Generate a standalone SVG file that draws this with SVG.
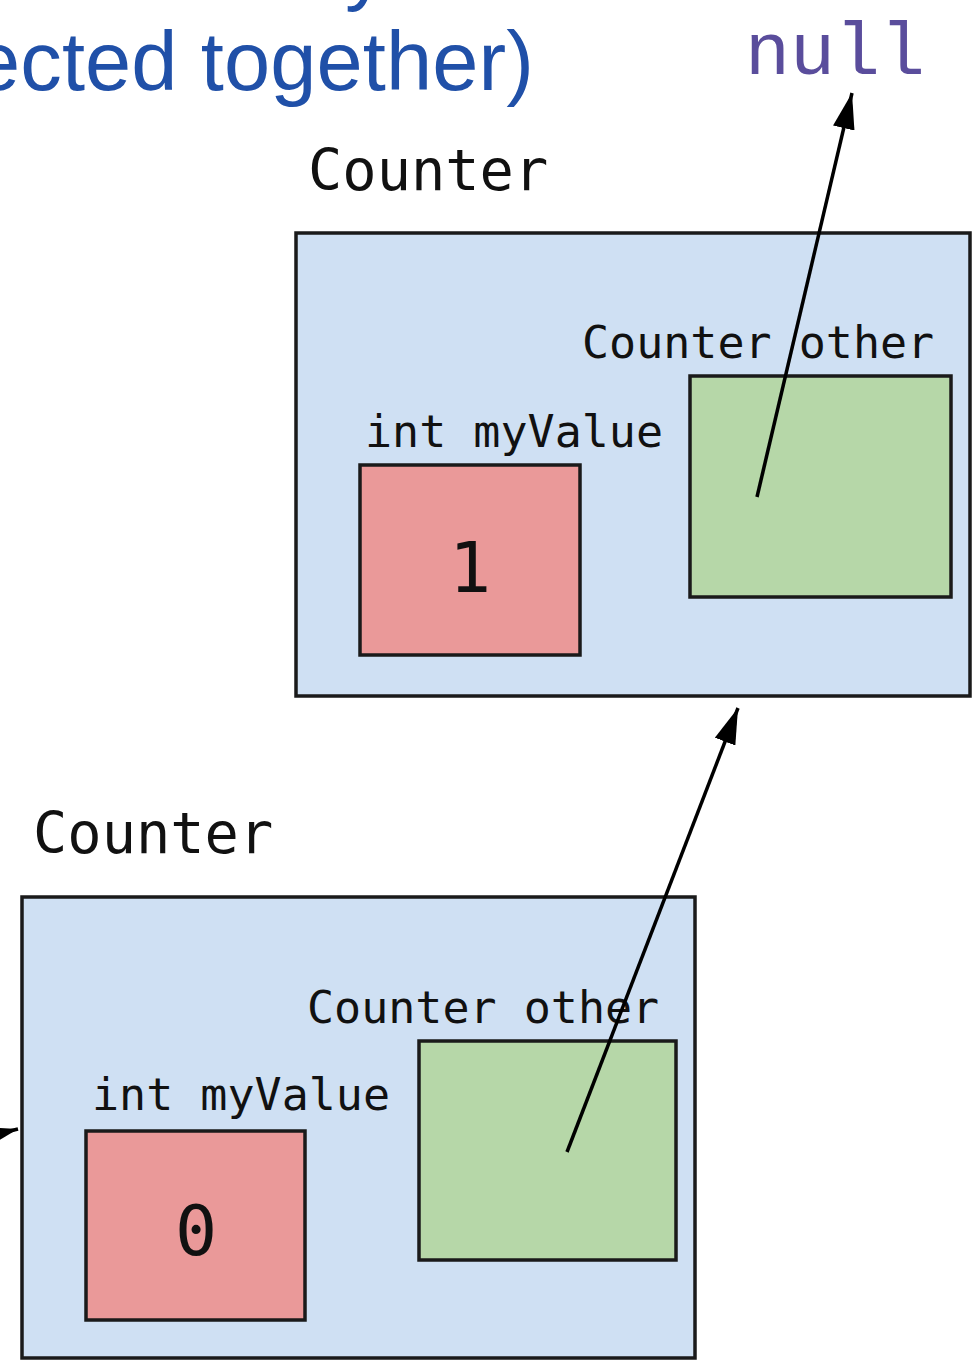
<svg xmlns="http://www.w3.org/2000/svg" width="973" height="1361" viewBox="0 0 973 1361">
  <defs>
    <style>
      .title { font-family: "Liberation Sans", Arial, sans-serif; font-size: 83px; fill: #2050a8; }
      .null { font-family: "Liberation Mono", "Courier New", monospace; font-size: 75px; fill: #5a4d9c; }
      .cls { font-family: "DejaVu Sans Mono", monospace; font-size: 57px; fill: #111; }
      .fld { font-family: "DejaVu Sans Mono", monospace; font-size: 45px; fill: #111; }
      .val { font-family: "DejaVu Sans Mono", monospace; font-size: 70px; fill: #111; text-anchor: middle; }
      .obj { fill: #cfe0f3; stroke: #1a1a1a; stroke-width: 3.5; }
      .int { fill: #ea9999; stroke: #1a1a1a; stroke-width: 3.5; }
      .ref { fill: #b6d7a8; stroke: #1a1a1a; stroke-width: 3.5; }
      .conn { stroke: #000; stroke-width: 3.5; fill: none; }
    </style>
    <marker id="ahb" viewBox="0 0 36 22" refX="36" refY="11" markerWidth="36" markerHeight="22" markerUnits="userSpaceOnUse" orient="auto">
      <path d="M0,0 L36,11 L0,22 Z" fill="#000"/>
    </marker>
  </defs>
  <rect x="0" y="0" width="973" height="1361" fill="#ffffff"/>

  <g id="title">
    <text class="title" x="345" y="-5">y</text>
    <text class="title" x="-26" y="90" textLength="560" lengthAdjust="spacing">ected together)</text>
  </g>

  <g id="null">
    <text class="null" x="745" y="74">null</text>
  </g>

  <g id="counter-top">
    <text class="cls" x="308" y="190">Counter</text>
    <rect class="obj" x="296" y="233" width="674" height="463"/>
    <text class="fld" x="582" y="358">Counter other</text>
    <rect class="ref" x="690" y="376" width="261" height="221"/>
    <text class="fld" x="365" y="447">int myValue</text>
    <rect class="int" x="360" y="465" width="220" height="190"/>
    <text class="val" x="470" y="592">1</text>
  </g>

  <g id="counter-bottom">
    <text class="cls" x="33" y="853">Counter</text>
    <rect class="obj" x="22" y="897" width="673" height="461"/>
    <text class="fld" x="307" y="1023">Counter other</text>
    <rect class="ref" x="419" y="1041" width="257" height="219"/>
    <text class="fld" x="92" y="1110">int myValue</text>
    <rect class="int" x="86" y="1131" width="219" height="189"/>
    <text class="val" x="196" y="1255">0</text>
  </g>

  <g id="connectors">
    <line class="conn" x1="757" y1="497" x2="852" y2="93" marker-end="url(#ahb)"/>
    <line class="conn" x1="567" y1="1152" x2="738" y2="708" marker-end="url(#ahb)"/>
    <line class="conn" x1="-40" y1="1143" x2="18" y2="1129" marker-end="url(#ahb)"/>
  </g>
</svg>
